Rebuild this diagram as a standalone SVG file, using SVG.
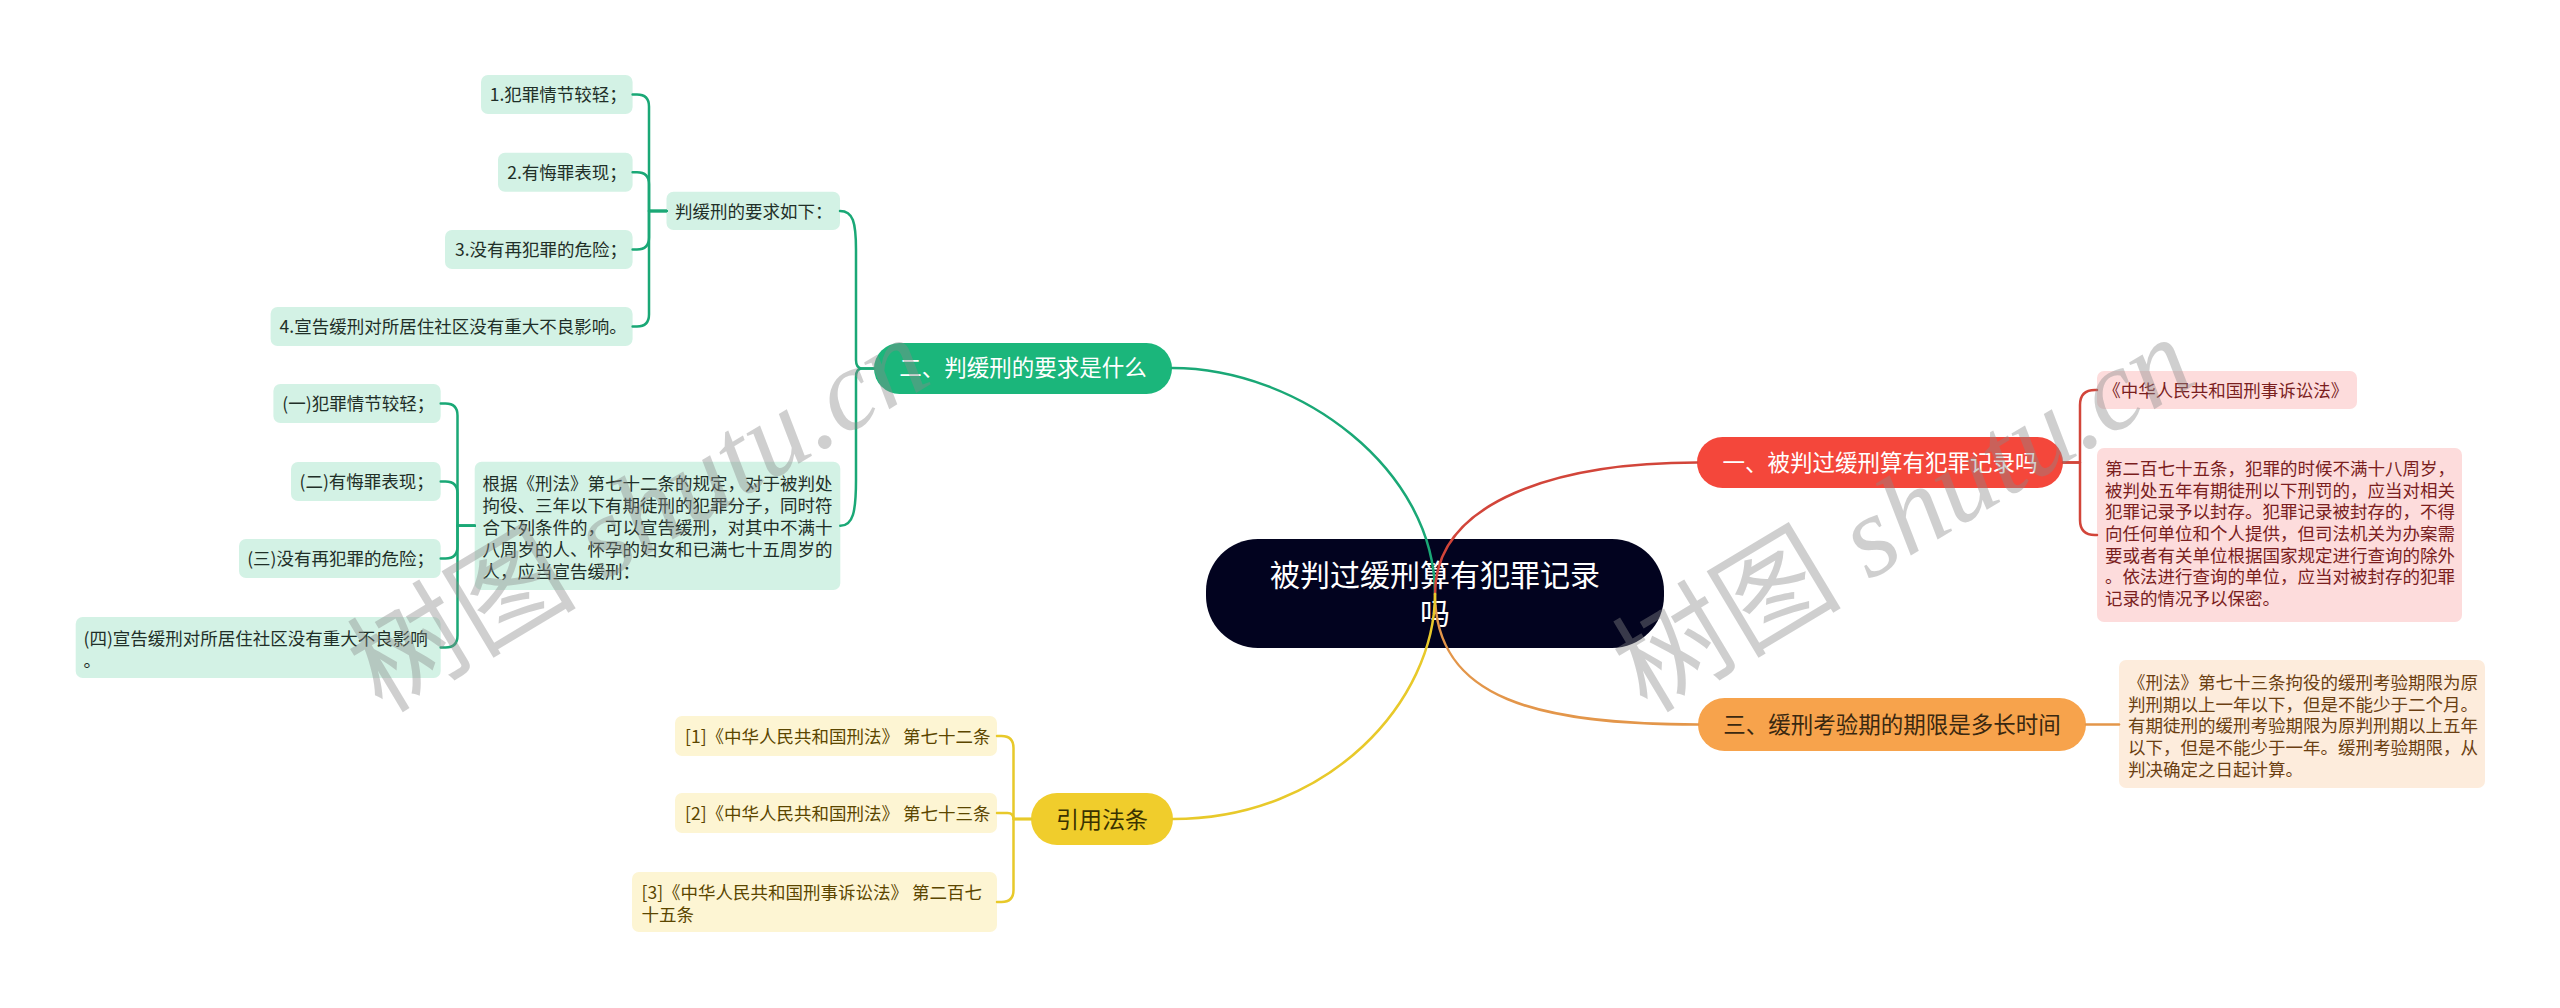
<svg xmlns="http://www.w3.org/2000/svg" width="2560" height="1008" viewBox="0 0 2560 1008">
<style>
text{font-family:"Noto Sans CJK SC","Liberation Sans",sans-serif}
.s{font-size:17.5px}
.m{font-size:22.5px}
.gb{fill:#d3f2e5}
.gt{fill:#1f2f28}
.rb{fill:#fddcdc}
.rt{fill:#7a1e1e}
.ob{fill:#fdecdc}
.ot{fill:#6b3f12}
.yb{fill:#fdf5d3}
.yt{fill:#5b4600}
.c{fill:none;stroke-width:2.5;stroke-linecap:round;stroke-linejoin:round}
.cg{stroke:#1aa876}
.cr{stroke:#d2453a}
.co{stroke:#e3964a}
.cy{stroke:#e8c92a}
.wm{font-family:"Liberation Serif","Noto Sans CJK SC",serif;font-size:115px;font-style:italic;fill:#8a8a8a;opacity:0.4}
</style>
<rect width="2560" height="1008" fill="#ffffff"/>

<g id="root">
<rect x="1206" y="539" width="458" height="109" rx="52" fill="#02031f"/>
<text x="1435" y="586" font-size="30" fill="#ffffff" text-anchor="middle">被判过缓刑算有犯罪记录</text>
<text x="1435" y="624" font-size="30" fill="#ffffff" text-anchor="middle">吗</text>
</g>

<g id="branch2">
<rect x="874" y="343" width="298" height="51" rx="25.5" fill="#1bb67b"/>
<text class="m" x="1023" y="376" fill="#ffffff" text-anchor="middle">二、判缓刑的要求是什么</text>
</g>
<g id="branch1">
<rect x="1697" y="437" width="366" height="51" rx="25.5" fill="#f4473b"/>
<text class="m" x="1880" y="471" fill="#ffffff" text-anchor="middle">一、被判过缓刑算有犯罪记录吗</text>
</g>
<g id="branch3">
<rect x="1698" y="698" width="388" height="53" rx="26.5" fill="#f7a34c"/>
<text class="m" x="1892" y="733" fill="#3a2810" text-anchor="middle">三、缓刑考验期的期限是多长时间</text>
</g>
<g id="branch4">
<rect x="1031" y="793" width="142" height="52" rx="26" fill="#f0cd2c"/>
<text x="1102" y="828" font-size="23" fill="#3a3300" text-anchor="middle">引用法条</text>
</g>

<g id="g1">
<rect class="gb" x="666.5" y="191.7" width="173.5" height="38.3" rx="7"/>
<text class="s gt" x="675" y="217.9">判缓刑的要求如下：</text>
</g>
<g id="g2">
<rect class="gb" x="474.7" y="461.7" width="365.6" height="128.3" rx="7"/>
<text class="s gt" x="482.6" y="489.8">根据《刑法》第七十二条的规定，对于被判处</text>
<text class="s gt" x="482.6" y="511.9">拘役、三年以下有期徒刑的犯罪分子，同时符</text>
<text class="s gt" x="482.6" y="534">合下列条件的，可以宣告缓刑，对其中不满十</text>
<text class="s gt" x="482.6" y="556.1">八周岁的人、怀孕的妇女和已满七十五周岁的</text>
<text class="s gt" x="482.6" y="578.2">人，应当宣告缓刑：</text>
</g>
<g id="c1">
<rect class="gb" x="481" y="75" width="151.6" height="39" rx="7"/>
<text class="s gt" x="489.8" y="101.3">1.犯罪情节较轻；</text>
</g>
<g id="c2">
<rect class="gb" x="498" y="152.7" width="134.6" height="39" rx="7"/>
<text class="s gt" x="507.3" y="179">2.有悔罪表现；</text>
</g>
<g id="c3">
<rect class="gb" x="445" y="230" width="187.6" height="39" rx="7"/>
<text class="s gt" x="455" y="256.3">3.没有再犯罪的危险；</text>
</g>
<g id="c4">
<rect class="gb" x="270.6" y="307" width="362" height="39" rx="7"/>
<text class="s gt" x="279.6" y="333.3">4.宣告缓刑对所居住社区没有重大不良影响。</text>
</g>
<g id="d1">
<rect class="gb" x="273.4" y="384" width="167.3" height="39" rx="7"/>
<text class="s gt" x="282.3" y="410.3">(一)犯罪情节较轻；</text>
</g>
<g id="d2">
<rect class="gb" x="291" y="462" width="149.7" height="39" rx="7"/>
<text class="s gt" x="299.5" y="488.3">(二)有悔罪表现；</text>
</g>
<g id="d3">
<rect class="gb" x="239" y="539" width="201.7" height="39" rx="7"/>
<text class="s gt" x="247.2" y="565.3">(三)没有再犯罪的危险；</text>
</g>
<g id="d4">
<rect class="gb" x="75.7" y="617" width="365" height="61" rx="7"/>
<text class="s gt" x="83.5" y="644.8">(四)宣告缓刑对所居住社区没有重大不良影响</text>
<text class="s gt" x="83.5" y="666.9">。</text>
</g>

<g id="y1">
<rect class="yb" x="675" y="716" width="322" height="40" rx="7"/>
<text class="s yt" x="685" y="742.8">[1]《中华人民共和国刑法》 第七十二条</text>
</g>
<g id="y2">
<rect class="yb" x="675" y="793" width="322" height="40" rx="7"/>
<text class="s yt" x="685" y="819.8">[2]《中华人民共和国刑法》 第七十三条</text>
</g>
<g id="y3">
<rect class="yb" x="632" y="872" width="365" height="60" rx="7"/>
<text class="s yt" x="641.5" y="898.8">[3]《中华人民共和国刑事诉讼法》 第二百七</text>
<text class="s yt" x="641.5" y="920.5">十五条</text>
</g>

<g id="r1">
<rect class="rb" x="2097" y="371" width="260" height="38" rx="7"/>
<text class="s rt" x="2103.3" y="396.8">《中华人民共和国刑事诉讼法》</text>
</g>
<g id="r2">
<rect class="rb" x="2097" y="448" width="365" height="174" rx="7"/>
<text class="s rt" x="2105" y="474.8">第二百七十五条，犯罪的时候不满十八周岁，</text>
<text class="s rt" x="2105" y="496.5">被判处五年有期徒刑以下刑罚的，应当对相关</text>
<text class="s rt" x="2105" y="518.2">犯罪记录予以封存。犯罪记录被封存的，不得</text>
<text class="s rt" x="2105" y="539.9">向任何单位和个人提供，但司法机关为办案需</text>
<text class="s rt" x="2105" y="561.6">要或者有关单位根据国家规定进行查询的除外</text>
<text class="s rt" x="2105" y="583.3">。依法进行查询的单位，应当对被封存的犯罪</text>
<text class="s rt" x="2105" y="605">记录的情况予以保密。</text>
</g>
<g id="o1">
<rect class="ob" x="2119" y="660" width="366" height="128" rx="7"/>
<text class="s ot" x="2128" y="688.8">《刑法》第七十三条拘役的缓刑考验期限为原</text>
<text class="s ot" x="2128" y="710.5">判刑期以上一年以下，但是不能少于二个月。</text>
<text class="s ot" x="2128" y="732.2">有期徒刑的缓刑考验期限为原判刑期以上五年</text>
<text class="s ot" x="2128" y="753.9">以下，但是不能少于一年。缓刑考验期限，从</text>
<text class="s ot" x="2128" y="775.6">判决确定之日起计算。</text>
</g>

<g id="connectors">
<path class="c cg" d="M1435,594 C1435,470 1300,368 1172,368"/>
<path class="c cr" d="M1435,594 C1435,500 1560,462.5 1697,462.5"/>
<path class="c co" d="M1435,594 C1435,700 1540,724.5 1698,724.5"/>
<path class="c cy" d="M1435,594 C1435,700 1330,819 1173,819"/>

<path class="c cg" d="M874,368.5 H862 Q856,368.5 856,360 V250 C856,222 853,210.9 840,210.9"/>
<path class="c cg" d="M874,368.5 H862 Q856,368.5 856,377 V480 C856,512 853,525.8 840.3,525.8"/>

<path class="c cg" d="M666.5,210.9 H649 V106.5 Q649,94.5 637,94.5 H632.6"/>
<path class="c cg" d="M666.5,210.9 H649 V184.2 Q649,172.2 637,172.2 H632.6"/>
<path class="c cg" d="M666.5,210.9 H649 V237.5 Q649,249.5 637,249.5 H632.6"/>
<path class="c cg" d="M666.5,210.9 H649 V314.5 Q649,326.5 637,326.5 H632.6"/>

<path class="c cg" d="M474.7,525.8 H457.5 V415.5 Q457.5,403.5 445.5,403.5 H440.7"/>
<path class="c cg" d="M474.7,525.8 H457.5 V493.5 Q457.5,481.5 445.5,481.5 H440.7"/>
<path class="c cg" d="M474.7,525.8 H457.5 V546.5 Q457.5,558.5 445.5,558.5 H440.7"/>
<path class="c cg" d="M474.7,525.8 H457.5 V635.5 Q457.5,647.5 445.5,647.5 H440.7"/>

<path class="c cr" d="M2063,462.5 H2080 V405 Q2080,390 2095,390 H2097"/>
<path class="c cr" d="M2063,462.5 H2080 V520 Q2080,535 2095,535 H2097"/>

<path class="c co" d="M2086,724.5 H2119"/>

<path class="c cy" d="M1031,819 H1013.5 V748 Q1013.5,736 1001.5,736 H997"/>
<path class="c cy" d="M1031,819 H1013.5 Q1013.5,813 1007.5,813 H997"/>
<path class="c cy" d="M1031,819 H1013.5 V890 Q1013.5,902 1001.5,902 H997"/>
</g>

<g id="watermarks">
<text class="wm" transform="translate(382,714) rotate(-31)"><tspan font-style="normal" font-family="Noto Sans CJK SC">树图</tspan> shutu.cn</text>
<text class="wm" transform="translate(1647,714) rotate(-31)"><tspan font-style="normal" font-family="Noto Sans CJK SC">树图</tspan> shutu.cn</text>
</g>
</svg>
